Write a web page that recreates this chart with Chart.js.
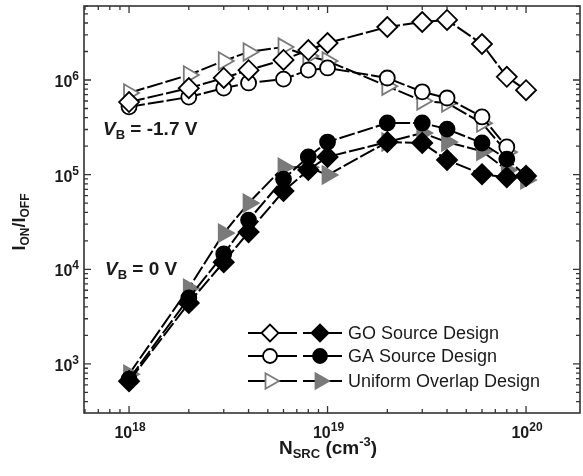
<!DOCTYPE html>
<html><head><meta charset="utf-8">
<script src="https://cdn.jsdelivr.net/npm/chart.js@4.4.1/dist/chart.umd.min.js"></script>
<style>html,body{margin:0;padding:0;background:#fff}#wrap{width:583px;height:476px;position:relative}</style>
</head><body><div id="wrap"><canvas id="c" width="583" height="476"></canvas></div>
<script>
// ---- data ----
const nSrc   = [1e18,2e18,3e18,4e18,6e18,8e18,1e19,2e19,3e19,4e19,6e19,8e19,1e20];
const goRev  = [5.85e5,8.2e5,1.05e6,1.27e6,1.63e6,2.07e6,2.46e6,3.63e6,4.10e6,4.31e6,2.40e6,1.08e6,7.8e5];
const gaRev  = [5.2e5,6.6e5,8.2e5,9.3e5,1.02e6,1.27e6,1.34e6,1.05e6,7.5e5,6.45e5,4.07e5,1.96e5];
const uoRev  = [7.3e5,1.13e6,1.59e6,1.98e6,2.23e6,1.79e6,1.59e6,8.6e5,6.0e5,5.7e5,3.5e5,1.73e5];
const goZero = [658,4.4e3,1.19e4,2.47e4,6.7e4,1.12e5,1.54e5,2.21e5,2.16e5,1.43e5,1.01e5,9.4e4,9.7e4];
const gaZero = [690,4.97e3,1.45e4,3.31e4,8.97e4,1.54e5,2.21e5,3.51e5,3.51e5,3.03e5,2.16e5,1.46e5,9.7e4];
const uoZero = [780,6.3e3,2.41e4,5.0e4,1.2e5,1.2e5,9.9e4,2.21e5,2.75e5,2.21e5,1.77e5,1.12e5,8.8e4];
const seriesNames = ['GO Source Design','GA Source Design','Uniform Overlap Design'];
const xMajor = [1e18,1e19,1e20];
const xMajorExp = ['18','19','20'];
const yMajor = [1e3,1e4,1e5,1e6];
const yMajorExp = ['3','4','5','6'];
const xRange = [5.93e17, 1.87e20];
const yRange = [303, 6.05e6];

const pts = arr => arr.map((v,i)=>({x:nSrc[i], y:v}));
const GRAY = '#7a7a7a';
function ds(arr, style, fill, stroke, r, rot){
  return {data: pts(arr), borderColor:'#000', borderWidth:2, borderDash:[16,3],
    pointStyle:style, pointRadius:r, pointHoverRadius:r, pointRotation:rot||0,
    pointBackgroundColor:fill, pointBorderColor:stroke, pointBorderWidth:1.8, tension:0, fill:false};
}
const FONT = '"Liberation Sans", Arial, sans-serif';

function rich(ctx, parts, x, y, align){
  let w=0;
  parts.forEach(p=>{ctx.font=(p[3]?'italic ':'')+'bold '+p[1]+'px '+FONT; w+=ctx.measureText(p[0]).width;});
  let cx = align==='center'? x-w/2 : align==='right'? x-w : x;
  parts.forEach(p=>{ctx.font=(p[3]?'italic ':'')+'bold '+p[1]+'px '+FONT; ctx.fillText(p[0],cx,y+p[2]); cx+=ctx.measureText(p[0]).width;});
}
function marker(ctx, style, x, y, r, fill, stroke){
  ctx.save(); ctx.beginPath();
  if(style==='d'){ctx.moveTo(x-r,y);ctx.lineTo(x,y-r);ctx.lineTo(x+r,y);ctx.lineTo(x,y+r);ctx.closePath();}
  else if(style==='c'){ctx.arc(x,y,r,0,Math.PI*2);}
  else {ctx.moveTo(x+r,y);ctx.lineTo(x-r*0.5,y-r*0.866);ctx.lineTo(x-r*0.5,y+r*0.866);ctx.closePath();}
  ctx.fillStyle=fill; ctx.fill(); ctx.lineWidth=1.8; ctx.strokeStyle=stroke; ctx.stroke(); ctx.restore();
}

const deco = {
  id:'deco',
  afterDraw(chart){
    const ctx=chart.ctx, a=chart.chartArea, xs=chart.scales.x, ys=chart.scales.y;
    ctx.save();
    ctx.strokeStyle='#333'; ctx.lineWidth=1.6;
    ctx.strokeRect(a.left,a.top,a.right-a.left,a.bottom-a.top);
    ctx.lineWidth=1.3;
    const xt=[], yt=[];
    for(let e=17;e<=20;e++) for(let m=1;m<=9;m++){const v=m*Math.pow(10,e); if(v>=xRange[0]&&v<=xRange[1]) xt.push([v,m===1]);}
    for(let e=2;e<=6;e++) for(let m=1;m<=9;m++){const v=m*Math.pow(10,e); if(v>=yRange[0]&&v<=yRange[1]) yt.push([v,m===1]);}
    ctx.beginPath();
    xt.forEach(([v,maj])=>{const px=xs.getPixelForValue(v), L=maj?7:4;
      ctx.moveTo(px,a.bottom);ctx.lineTo(px,a.bottom-L);ctx.moveTo(px,a.top);ctx.lineTo(px,a.top+L);});
    yt.forEach(([v,maj])=>{const py=ys.getPixelForValue(v), L=maj?7:4;
      ctx.moveTo(a.left,py);ctx.lineTo(a.left+L,py);ctx.moveTo(a.right,py);ctx.lineTo(a.right-L,py);});
    ctx.stroke();
    ctx.fillStyle='#1a1a1a'; ctx.textBaseline='alphabetic';
    xMajor.forEach((v,i)=>{const px=xs.getPixelForValue(v); rich(ctx,[['10',16,0],[xMajorExp[i],12,-7]],px+1,438,'center');});
    yMajor.forEach((v,i)=>{const py=ys.getPixelForValue(v); rich(ctx,[['10',16,0],[yMajorExp[i],12,-7]],79,py+7,'right');});
    rich(ctx,[['N',19,0],['SRC',13,4],[' (cm',19,0],['-3',13,-8],[')',19,0]],328,454,'center');
    ctx.save(); ctx.translate(25,222); ctx.rotate(-Math.PI/2);
    rich(ctx,[['I',18,0],['ON',12,4],['/',18,0],['I',18,0],['OFF',12,4]],0,0,'center');
    ctx.restore();
    rich(ctx,[['V',19,0,true],['B',13,4],[' = -1.7 V',19,0]],103,135,'left');
    rich(ctx,[['V',19,0,true],['B',13,4],[' = 0 V',19,0]],105,275,'left');
    const rows=[[333,'d','#000','#000'],[356,'c','#000','#000'],[381,'t',GRAY,GRAY]];
    rows.forEach((r,i)=>{
      const y=r[0];
      ctx.strokeStyle='#000'; ctx.lineWidth=2; ctx.beginPath();
      ctx.moveTo(248,y);ctx.lineTo(297,y);ctx.moveTo(303,y);ctx.lineTo(342,y);ctx.stroke();
      const rr = r[1]==='c'?7:(r[1]==='d'?8.5:9);
      marker(ctx,r[1],270,y,rr,'#fff',r[1]==='t'?GRAY:'#000');
      marker(ctx,r[1],320,y,rr,r[2],r[3]);
      ctx.fillStyle='#1a1a1a'; ctx.font='18px '+FONT; ctx.textBaseline='middle';
      ctx.fillText(seriesNames[i],348,y+1);
      ctx.textBaseline='alphabetic';
    });
    ctx.restore();
  }
};

new Chart(document.getElementById('c'),{
  type:'line',
  data:{datasets:[
    ds(goZero,'rectRot','#000','#000',10),
    ds(gaZero,'circle','#000','#000',7.5),
    ds(uoZero,'triangle',GRAY,GRAY,10,90),
    ds(goRev,'rectRot','#fff','#000',10),
    ds(gaRev,'circle','#fff','#000',7.5),
    ds(uoRev,'triangle','#fff',GRAY,10,90)
  ]},
  options:{
    responsive:false, animation:false, devicePixelRatio:1,
    layout:{autoPadding:false, padding:{left:84,right:3,top:6,bottom:63}},
    plugins:{legend:{display:false},tooltip:{enabled:false}},
    scales:{
      x:{type:'logarithmic',min:xRange[0],max:xRange[1],display:false},
      y:{type:'logarithmic',min:yRange[0],max:yRange[1],display:false}
    }
  },
  plugins:[deco]
});
</script></body></html>
